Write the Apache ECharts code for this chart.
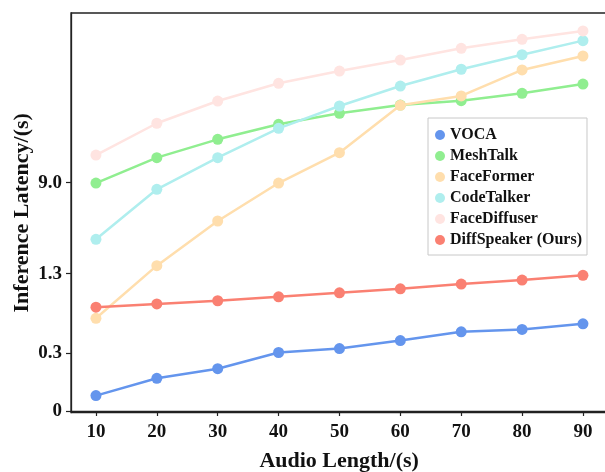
<!DOCTYPE html>
<html>
<head>
<meta charset="utf-8">
<script src="https://cdn.jsdelivr.net/npm/echarts@6/dist/echarts.min.js"></script>
<style>html,body{margin:0;padding:0;background:#fff;}#c{width:605px;height:472px;}</style>
</head>
<body>
<div id="c"></div>
<script>
// ---- data ----
const audioLength = [10, 20, 30, 40, 50, 60, 70, 80, 90];
const seriesNames = ['VOCA', 'MeshTalk', 'FaceFormer', 'CodeTalker', 'FaceDiffuser', 'DiffSpeaker (Ours)'];
const voca         = [0.08, 0.17, 0.22, 0.31, 0.36, 0.46, 0.57, 0.60, 0.67];
const meshTalk     = [8.97, 11.12, 12.67, 13.94, 14.87, 15.57, 15.94, 16.56, 17.35];
const faceFormer   = [0.74, 1.98, 5.76, 8.97, 11.54, 15.55, 16.34, 18.54, 19.72];
const codeTalker   = [4.21, 8.44, 11.12, 13.60, 15.49, 17.18, 18.60, 19.83, 21.02];
const faceDiffuser = [11.34, 14.03, 15.91, 17.41, 18.45, 19.38, 20.37, 21.13, 21.84];
const diffSpeaker  = [0.88, 0.92, 0.96, 1.01, 1.06, 1.11, 1.17, 1.22, 1.28];
const yTickValues  = [0, 0.3, 1.3, 9.0];
const yTickLabels  = ['0', '0.3', '1.3', '9.0'];
const xTickLabels  = ['10', '20', '30', '40', '50', '60', '70', '80', '90'];

// ---- non-linear y scale (piecewise between tick values) ----
const scaleKnots = [0, 0.3, 1.3, 9.0];
const scaleUnits = [0, 57.7, 137.3, 228.3];
function toAxis(v) {
  const n = scaleKnots.length;
  let i = 0;
  while (i < n - 2 && v > scaleKnots[i + 1]) i++;
  const k0 = scaleKnots[i], k1 = scaleKnots[i + 1];
  const u0 = scaleUnits[i], u1 = scaleUnits[i + 1];
  return u0 + (v - k0) * (u1 - u0) / (k1 - k0);
}

const colors = ['#6495ED', '#90EE90', '#FFDEAD', '#AFEEEE', '#FFE4E1', '#FA8072'];
const allData = [voca, meshTalk, faceFormer, codeTalker, faceDiffuser, diffSpeaker];

const FONT = '"Liberation Serif", "Times New Roman", serif';
const yTickUnits = yTickValues.map(toAxis);

const chart = echarts.init(document.getElementById('c'), null, {renderer: 'canvas'});
chart.setOption({
  animation: false,
  backgroundColor: '#fff',
  color: colors,
  grid: {
    left: 71, top: 13, width: 536.3, bottom: 59.5,
    containLabel: false,
    outerBoundsMode: 'none',
    show: true, borderColor: '#222', borderWidth: 1.3, backgroundColor: 'transparent'
  },
  legend: {
    orient: 'vertical',
    left: 428, top: 118,
    data: seriesNames,
    icon: 'circle',
    itemWidth: 10, itemHeight: 10,
    itemGap: 5,
    padding: [9, 5, 7, 7],
    borderColor: '#c8c8c8', borderWidth: 1, borderRadius: 0,
    backgroundColor: '#fff',
    textStyle: {fontFamily: FONT, fontWeight: 'bold', fontSize: 16, color: '#111', lineHeight: 16}
  },
  xAxis: {
    type: 'value',
    min: 5.9, max: 94,
    name: 'Audio Length/(s)',
    nameLocation: 'middle',
    nameMoveOverlap: false,
    nameGap: 38,
    nameTextStyle: {fontFamily: FONT, fontWeight: 'bold', fontSize: 22, color: '#111'},
    axisLine: {show: true, lineStyle: {color: '#222', width: 1.3}},
    axisTick: {show: true, length: 5, lineStyle: {color: '#222', width: 1.2}, customValues: audioLength},
    axisLabel: {
      fontFamily: FONT, fontWeight: 'bold', fontSize: 19, color: '#111', margin: 10,
      customValues: audioLength,
      formatter: function (v) { const i = audioLength.indexOf(v); return i >= 0 ? xTickLabels[i] : ''; }
    },
    splitLine: {show: false}
  },
  yAxis: {
    type: 'value',
    min: -1.5, max: 398,
    name: 'Inference Latency/(s)',
    nameLocation: 'middle',
    nameMoveOverlap: false,
    nameGap: 38,
    nameTextStyle: {fontFamily: FONT, fontWeight: 'bold', fontSize: 22, color: '#111'},
    axisLine: {show: true, lineStyle: {color: '#222', width: 1.3}},
    axisTick: {show: true, length: 5, lineStyle: {color: '#222', width: 1.2}, customValues: yTickUnits},
    axisLabel: {
      fontFamily: FONT, fontWeight: 'bold', fontSize: 19, color: '#111', margin: 9,
      customValues: yTickUnits,
      formatter: function (u) {
        for (let i = 0; i < yTickUnits.length; i++) if (Math.abs(yTickUnits[i] - u) < 0.01) return yTickLabels[i];
        return '';
      }
    },
    splitLine: {show: false}
  },
  series: seriesNames.map(function (name, si) {
    return {
      name: name,
      type: 'line',
      data: audioLength.map(function (x, i) { return [x, toAxis(allData[si][i])]; }),
      symbol: 'circle',
      symbolSize: 11,
      lineStyle: {width: 2.5, color: colors[si]},
      itemStyle: {color: colors[si]},
      z: 2 + si
    };
  })
});
</script>
</body>
</html>
